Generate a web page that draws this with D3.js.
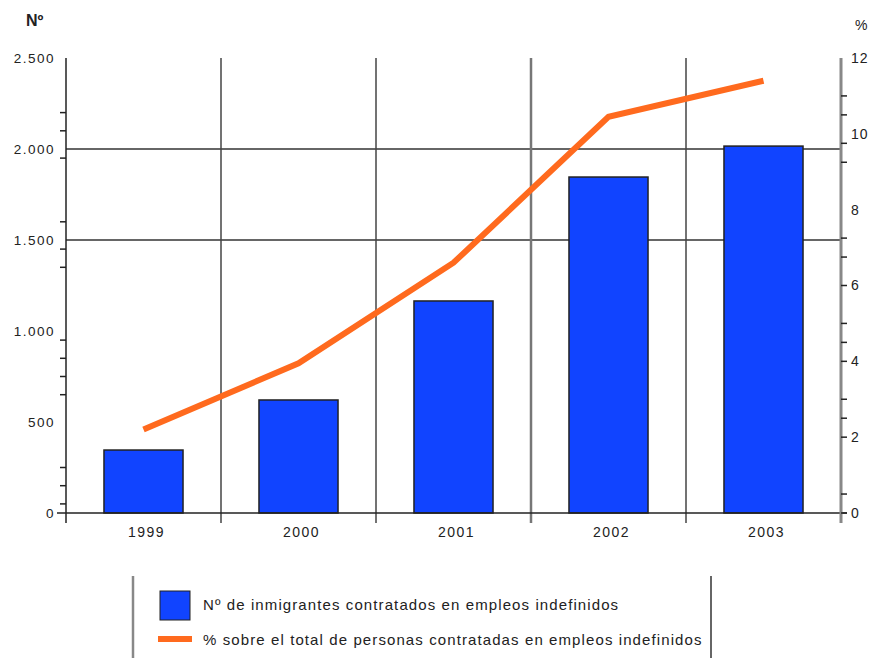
<!DOCTYPE html>
<html>
<head>
<meta charset="utf-8">
<script src="https://cdn.jsdelivr.net/npm/d3@7"></script>
<style>
  body { margin: 0; background: #fff; }
  text { font-family: "Liberation Sans", Arial, sans-serif; fill: #222; }
</style>
</head>
<body>
<svg id="chart" width="873" height="658"></svg>
<script>
// data
const years = ["1999", "2000", "2001", "2002", "2003"];
const immigrants = [346, 621, 1165, 1846, 2016];
const percent = [2.2, 3.95, 6.6, 10.45, 11.4];

const leftTicks = [0, 500, 1000, 1500, 2000, 2500];
const leftMinor = [50, 150, 250, 650, 750, 850, 950, 1350, 1450, 1600, 1950, 2100, 2200];
const rightTicks = [0, 2, 4, 6, 8, 10, 12];
const rightMinor = [0.5, 2.5, 3, 4.5, 5, 6.75, 7.25, 9.25, 9.75, 10.5, 11];
const gridValues = [1500, 2000];

const legendLabels = [
  "Nº de inmigrantes contratados en empleos indefinidos",
  "% sobre el total de personas contratadas en empleos indefinidos"
];

const margin = {top: 58, left: 66, right: 32, bottom: 145};
const width = 873 - margin.left - margin.right,
      height = 658 - margin.top - margin.bottom;

const blue = "#1144ff", orange = "#ff6a1e";

const svg = d3.select("#chart");
const g = svg.append("g")
  .attr("transform", "translate(" + margin.left + "," + margin.top + ")");

// scales
const xBand = d3.scaleBand().domain(years).range([0, width]);
const xBar = d3.scaleBand().domain(years).range([0, width])
  .paddingInner(0.49).paddingOuter(0.245);
const y = d3.scaleLinear().domain([0, 2500]).range([height, 0]);
const y2 = d3.scaleLinear().domain([0, 12]).range([height, 0]);

// horizontal grid lines
g.selectAll(".hgrid").data(gridValues).enter().append("line")
  .attr("x1", 0).attr("x2", width)
  .attr("y1", d => y(d)).attr("y2", d => y(d))
  .attr("stroke", "#333").attr("stroke-width", 1.5);

// vertical separators between years
g.selectAll(".vgrid").data(years.slice(1)).enter().append("line")
  .attr("x1", d => xBand(d)).attr("x2", d => xBand(d))
  .attr("y1", 0).attr("y2", height + 10)
  .attr("stroke", (d, i) => i === 2 ? "#777" : "#444")
  .attr("stroke-width", (d, i) => i === 2 ? 2.5 : 1.5);

// bars
g.selectAll(".bar").data(immigrants).enter().append("rect")
  .attr("x", (d, i) => xBar(years[i]))
  .attr("width", xBar.bandwidth())
  .attr("y", d => y(d))
  .attr("height", d => height - y(d))
  .attr("fill", blue)
  .attr("stroke", "#222").attr("stroke-width", 1.5);

// x axis line
g.append("line")
  .attr("x1", -9).attr("x2", width + 6)
  .attr("y1", height).attr("y2", height)
  .attr("stroke", "#222").attr("stroke-width", 1.5);

// left axis
g.append("line")
  .attr("x1", 0).attr("x2", 0).attr("y1", 0).attr("y2", height + 10)
  .attr("stroke", "#222").attr("stroke-width", 1.5);
g.selectAll(".lminor").data(leftMinor).enter().append("line")
  .attr("x1", -6).attr("x2", 0)
  .attr("y1", d => y(d)).attr("y2", d => y(d))
  .attr("stroke", "#222").attr("stroke-width", 1.5);
g.selectAll(".llabel").data(leftTicks).enter().append("text")
  .attr("x", -11).attr("y", d => y(d)).attr("dy", "0.35em")
  .attr("text-anchor", "end").attr("font-size", 13.5)
  .attr("letter-spacing", 1.5)
  .text(d => d3.format(",")(d).replace(/,/g, "."));

// right axis
g.append("line")
  .attr("x1", width).attr("x2", width).attr("y1", 0).attr("y2", height + 10)
  .attr("stroke", "#888").attr("stroke-width", 3);
g.selectAll(".rminor").data(rightMinor.concat([0, 2, 4, 6])).enter().append("line")
  .attr("x1", width).attr("x2", width + 6)
  .attr("y1", d => y2(d)).attr("y2", d => y2(d))
  .attr("stroke", "#222").attr("stroke-width", 1.5);
g.selectAll(".rlabel").data(rightTicks).enter().append("text")
  .attr("x", width + 10).attr("y", d => y2(d)).attr("dy", "0.35em")
  .attr("font-size", 14).attr("letter-spacing", 1)
  .text(d => d);

// x labels
g.selectAll(".xlabel").data(years).enter().append("text")
  .attr("x", d => xBand(d) + xBand.bandwidth() / 2 + 3)
  .attr("y", height + 24)
  .attr("text-anchor", "middle").attr("font-size", 14)
  .attr("letter-spacing", 1.5)
  .text(d => d);

// percentage line
const line = d3.line()
  .x((d, i) => xBand(years[i]) + xBand.bandwidth() / 2)
  .y(d => y2(d));
g.append("path")
  .datum(percent)
  .attr("d", line)
  .attr("fill", "none")
  .attr("stroke", orange).attr("stroke-width", 6);

// axis titles
svg.append("text").attr("x", 26).attr("y", 26)
  .attr("font-size", 16).attr("font-weight", "bold").text("Nº");
svg.append("text").attr("x", 855).attr("y", 30)
  .attr("font-size", 14).text("%");

// legend
const lg = svg.append("g");
lg.append("line").attr("x1", 133).attr("x2", 133).attr("y1", 576).attr("y2", 658)
  .attr("stroke", "#888").attr("stroke-width", 2.5);
lg.append("line").attr("x1", 711).attr("x2", 711).attr("y1", 576).attr("y2", 658)
  .attr("stroke", "#333").attr("stroke-width", 1.5);
lg.append("rect").attr("x", 160).attr("y", 591).attr("width", 30).attr("height", 29)
  .attr("fill", blue).attr("stroke", "#222").attr("stroke-width", 1);
lg.append("line").attr("x1", 158).attr("x2", 192).attr("y1", 639).attr("y2", 639)
  .attr("stroke", orange).attr("stroke-width", 6);
lg.selectAll(".ltext").data(legendLabels).enter().append("text")
  .attr("x", 203).attr("y", (d, i) => 610 + i * 35)
  .attr("font-size", 15).attr("letter-spacing", 1.1)
  .text(d => d);
</script>
</body>
</html>
